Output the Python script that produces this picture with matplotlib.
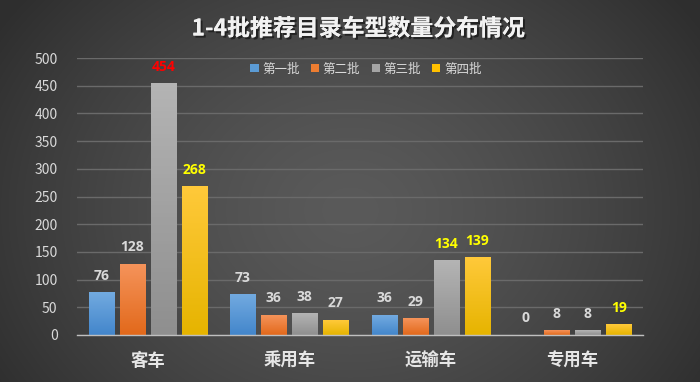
import numpy as np
import matplotlib
matplotlib.use("Agg")
import matplotlib.pyplot as plt
from matplotlib.patches import Patch
import matplotlib.patheffects as pe
from matplotlib.colors import LinearSegmentedColormap

plt.rcParams['font.family'] = ['Noto Sans CJK SC', 'DejaVu Sans']

categories = ['客车', '乘用车', '运输车', '专用车']
series_names = ['第一批', '第二批', '第三批', '第四批']
batch1 = [76, 73, 36, 0]
batch2 = [128, 36, 29, 8]
batch3 = [454, 38, 134, 8]
batch4 = [268, 27, 139, 19]
series_values = [batch1, batch2, batch3, batch4]
yticks = [0, 50, 100, 150, 200, 250, 300, 350, 400, 450, 500]

# label colours per series/category
label_colors = [
    ['#d9d9d9', '#d9d9d9', '#d9d9d9', '#d9d9d9'],
    ['#d9d9d9', '#d9d9d9', '#d9d9d9', '#d9d9d9'],
    ['#ff0000', '#d9d9d9', '#ffff00', '#d9d9d9'],
    ['#ffff00', '#d9d9d9', '#ffff00', '#ffff00'],
]
grad_colors = [
    ('#72aae0', '#4386cb'),
    ('#f5935a', '#e2691b'),
    ('#b4b4b4', '#8f8f8f'),
    ('#ffc93a', '#e6b400'),
]
legend_colors = ['#5b9bd5', '#ed7d31', '#a5a5a5', '#ffc000']

W, H = 700, 382
fig = plt.figure(figsize=(W / 100, H / 100), dpi=100)

# background radial gradient
bg = fig.add_axes([0, 0, 1, 1])
yy, xx = np.mgrid[0:H, 0:W]
cx, cy = W * 0.5, H * 0.55
r = np.sqrt(((xx - cx) / (W * 0.6)) ** 2 + ((yy - cy) / (H * 0.9)) ** 2)
r = np.clip(r, 0, 1)
c0 = np.array([0x5a, 0x5a, 0x5a]) / 255
c1 = np.array([0x2e, 0x2e, 0x2e]) / 255
img = c0[None, None, :] * (1 - r[..., None] ** 1.4) + c1[None, None, :] * (r[..., None] ** 1.4)
bg.imshow(img, aspect='auto', extent=[0, 1, 0, 1])
bg.axis('off')

ax = fig.add_axes([77 / W, 1 - 335 / H, (643 - 77) / W, (335 - 58) / H])
ax.patch.set_alpha(0)

x = np.arange(len(categories))
bw = 0.177
step = 0.219
offsets = (np.arange(4) - 1.5) * step

for i, vals in enumerate(series_values):
    top, bot = grad_colors[i]
    cmap = LinearSegmentedColormap.from_list('g%d' % i, [bot, top])
    bars = ax.bar(x + offsets[i], vals, bw, color='none', zorder=3)
    for j, b in enumerate(bars):
        h = b.get_height()
        x0 = b.get_x()
        if h > 0:
            grad = np.linspace(0, 1, 64).reshape(-1, 1)
            ax.imshow(grad, cmap=cmap, origin='lower', aspect='auto',
                      extent=[x0, x0 + bw, 0, h], zorder=3)
        ax.annotate(str(vals[j]), (x0 + bw / 2, h), xytext=(0, 7),
                    textcoords='offset points', ha='center', va='bottom',
                    fontsize=10, fontweight='bold', color=label_colors[i][j],
                    family=['Open Sans', 'DejaVu Sans'], zorder=5)

ax.set_xlim(-0.5, len(categories) - 0.5)
ax.set_ylim(0, 500)
ax.set_yticks(yticks)
ax.set_yticklabels([str(t) for t in yticks], color='#d9d9d9', fontsize=10)
ax.set_xticks(x)
ax.set_xticklabels(categories, color='#e6e6e6', fontsize=12.5, fontweight='bold')
ax.tick_params(axis='both', length=0)
ax.tick_params(axis='x', pad=12)
ax.tick_params(axis='y', pad=14)
ax.yaxis.grid(True, color='#6a6a6a', linewidth=1, zorder=0)
ax.set_axisbelow(True)
for s in ['top', 'right', 'left']:
    ax.spines[s].set_visible(False)
ax.spines['bottom'].set_color('#bfbfbf')
ax.spines['bottom'].set_linewidth(1)
ax.spines['bottom'].set_zorder(4)

handles = [Patch(facecolor=c, edgecolor='none') for c in legend_colors]
fig.legend(handles, series_names, loc='center', bbox_to_anchor=(366 / W, 1 - 69 / H),
           ncol=4, frameon=False, fontsize=9, labelcolor='#d9d9d9',
           handlelength=0.65, handleheight=0.65, handletextpad=0.3, columnspacing=0.9)

fig.text(358 / W, 1 - 29 / H, '1-4批推荐目录车型数量分布情况', ha='center', va='center',
         fontsize=16.5, fontweight='bold', color='#f2f2f2',
         path_effects=[pe.withSimplePatchShadow(offset=(1.5, -1.5), shadow_rgbFace='#1a1a1a', alpha=0.8), pe.Normal()])

fig.savefig('out.png', dpi=100)
